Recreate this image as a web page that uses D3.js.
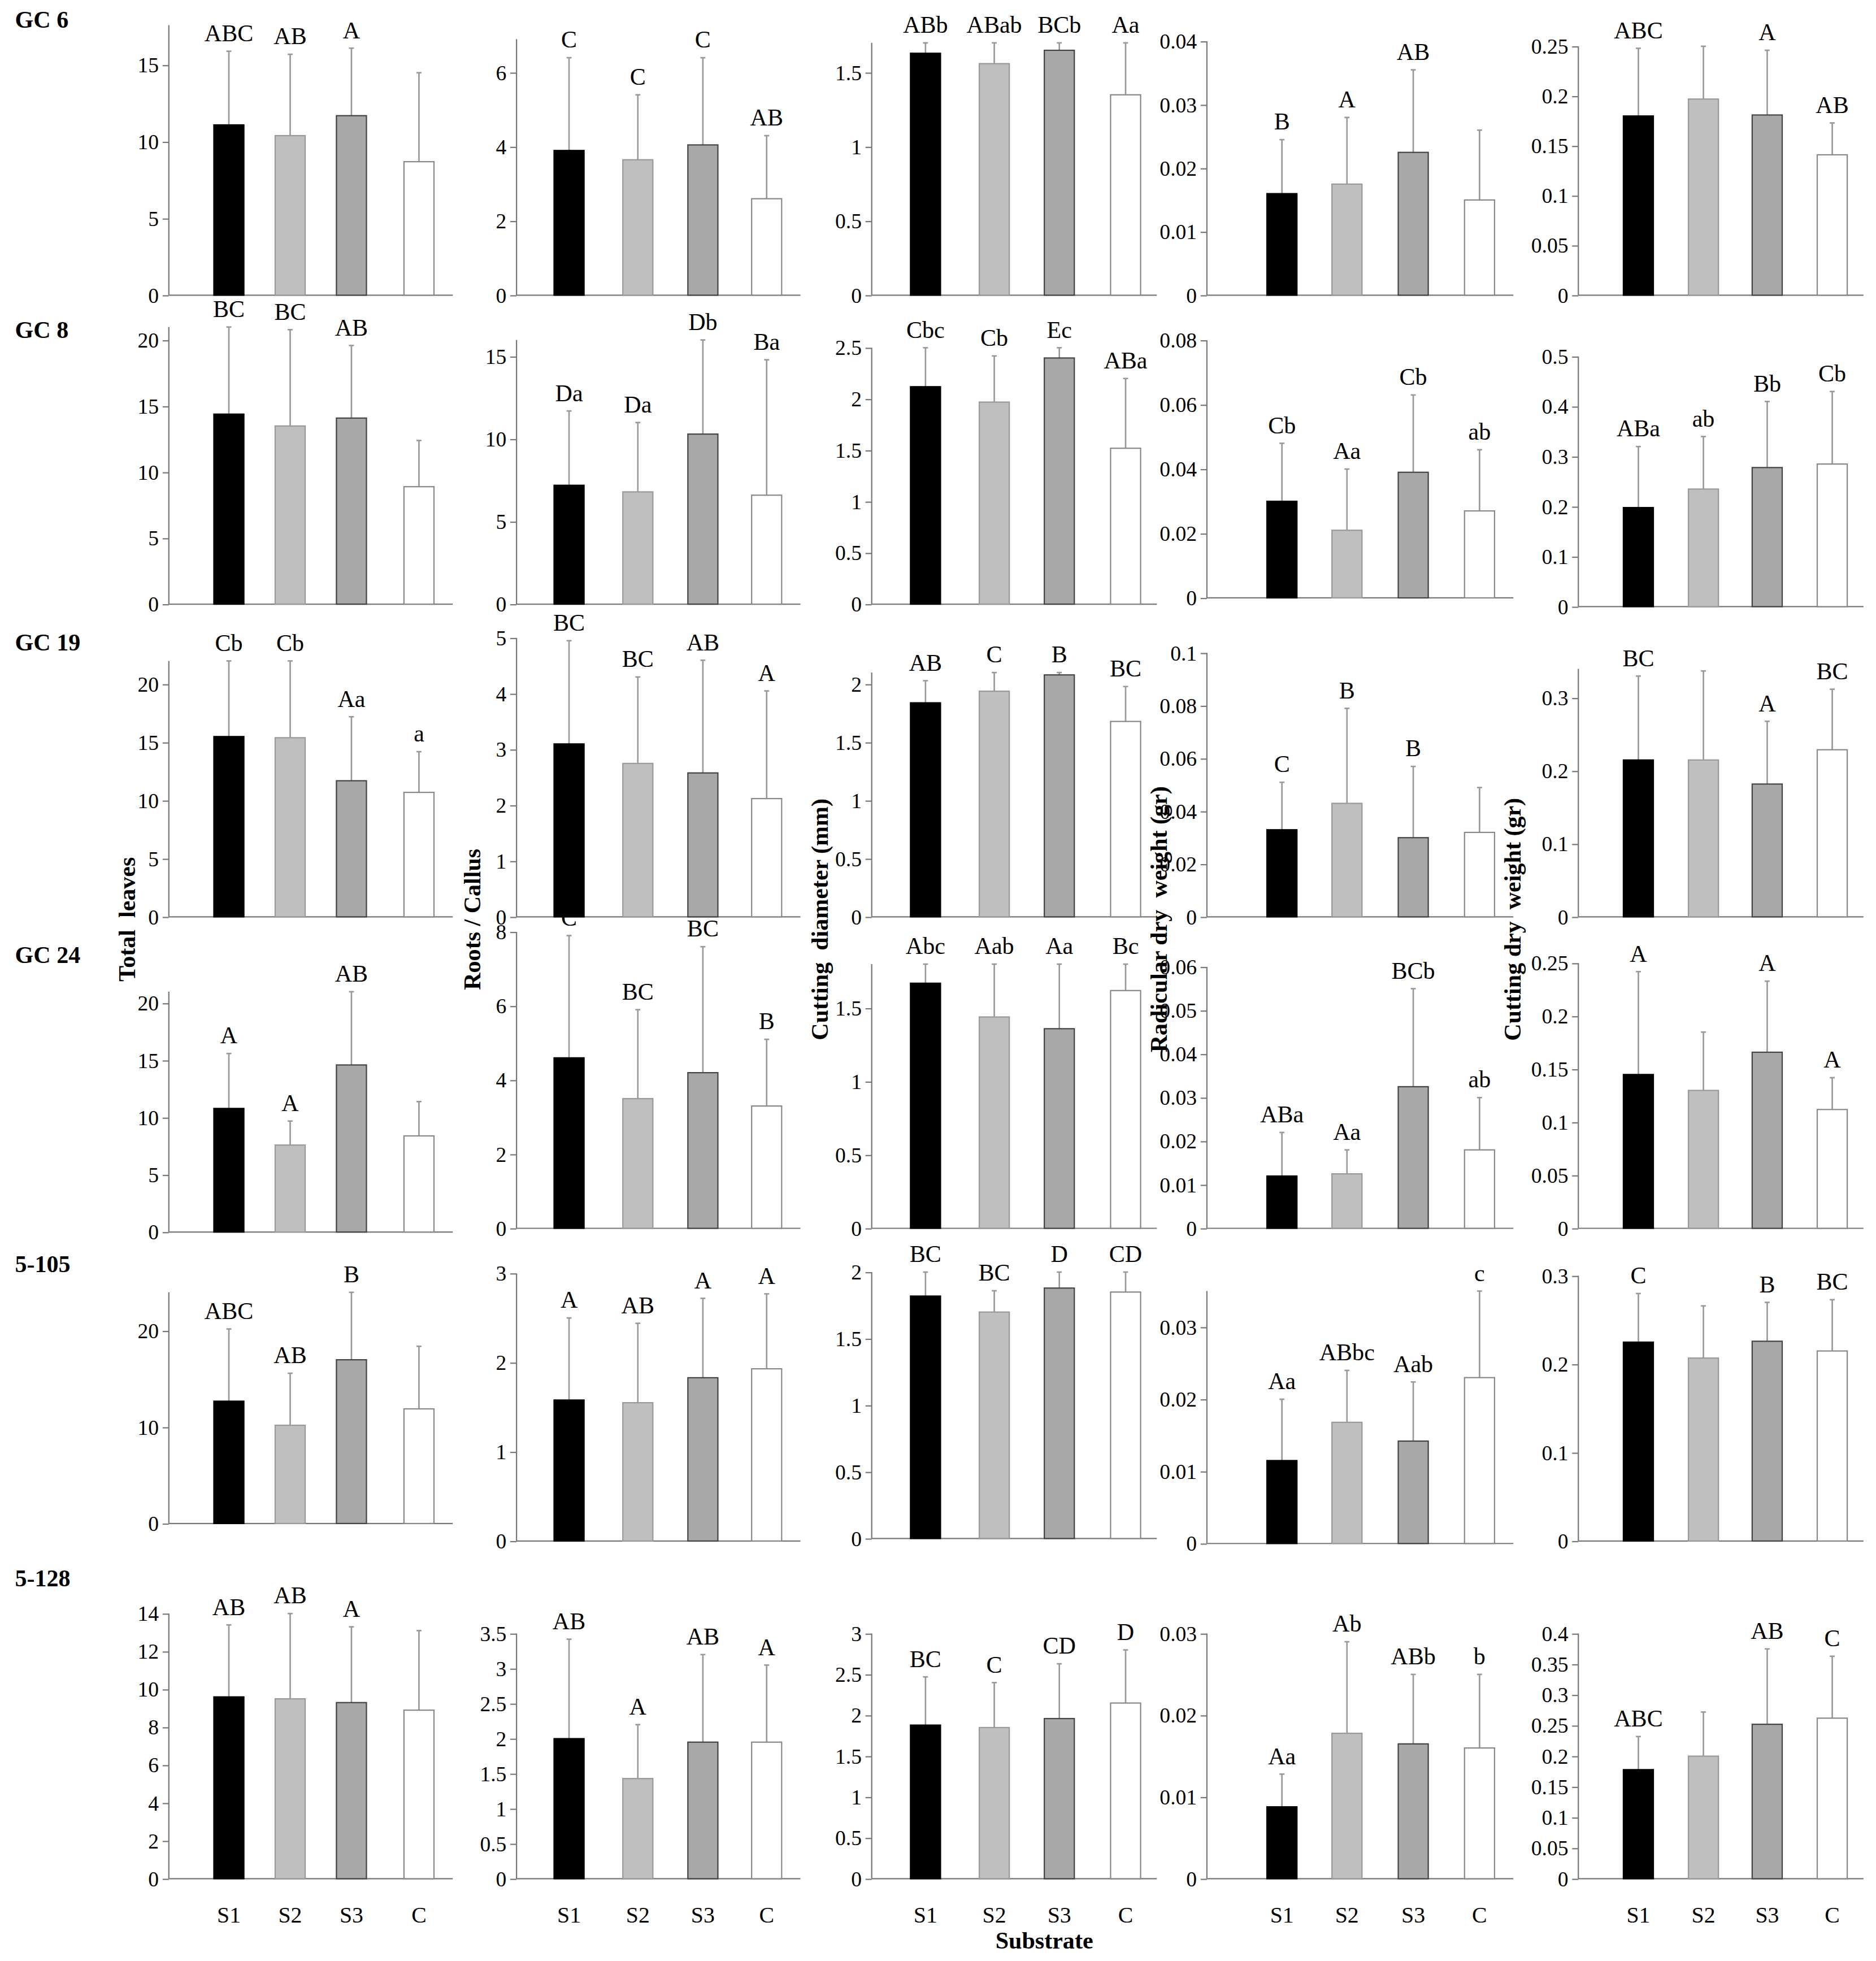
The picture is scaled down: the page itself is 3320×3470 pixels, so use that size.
<!DOCTYPE html>
<html><head><meta charset="utf-8">
<script src="https://cdn.jsdelivr.net/npm/d3@7"></script>
<style>body{margin:0;background:#fff}</style></head>
<body><svg id="c" width="3320" height="3470"></svg>
<script>
const categories=["S1","S2","S3","C"];
const rowLabels=["GC 6","GC 8","GC 19","GC 24","5-105","5-128"];
const yTitles=["Total  leaves","Roots / Callus","Cutting  diameter (mm)","Radicular dry  weight (gr)","Cutting dry  weight (gr)"];
const means=[
 [[11.1,10.4,11.7,8.7],[3.9,3.65,4.05,2.6],[1.63,1.56,1.65,1.35],[0.016,0.0175,0.0225,0.015],[0.18,0.197,0.181,0.141]],
 [[14.4,13.5,14.1,8.9],[7.2,6.8,10.3,6.6],[2.12,1.97,2.4,1.52],[0.030,0.021,0.039,0.027],[0.198,0.235,0.278,0.285]],
 [[15.5,15.4,11.7,10.7],[3.1,2.75,2.58,2.12],[1.84,1.94,2.08,1.68],[0.033,0.043,0.030,0.032],[0.215,0.215,0.182,0.229]],
 [[10.8,7.6,14.6,8.4],[4.6,3.5,4.2,3.3],[1.67,1.44,1.36,1.62],[0.012,0.0125,0.0325,0.018],[0.145,0.130,0.166,0.112]],
 [[12.7,10.2,17,11.9],[1.58,1.55,1.83,1.93],[1.82,1.70,1.88,1.85],[0.0115,0.0168,0.0142,0.023],[0.225,0.207,0.226,0.215]],
 [[9.6,9.5,9.3,8.9],[2.0,1.43,1.95,1.95],[1.88,1.85,1.96,2.15],[0.0088,0.0178,0.0165,0.016],[0.178,0.2,0.252,0.262]]
];
const errTops=[
 [[15.9,15.7,16.1,14.5],[6.4,5.4,6.4,4.3],[1.7,1.7,1.7,1.7],[0.0245,0.028,0.0355,0.026],[0.248,0.258,0.246,0.173]],
 [[21,20.8,19.6,12.4],[11.7,11.0,16,14.8],[2.5,2.42,2.5,2.2],[0.048,0.040,0.063,0.046],[0.32,0.34,0.41,0.43]],
 [[22,22,17.2,14.2],[4.95,4.3,4.6,4.05],[2.03,2.1,2.1,1.98],[0.051,0.079,0.057,0.049],[0.33,0.337,0.268,0.312]],
 [[15.6,9.7,21,11.4],[7.9,5.9,7.6,5.1],[1.8,1.8,1.8,1.8],[0.022,0.018,0.055,0.030],[0.242,0.185,0.233,0.142]],
 [[20.2,15.6,24,18.4],[2.5,2.44,2.72,2.77],[2.0,1.86,2.0,2.0],[0.020,0.024,0.0224,0.0355],[0.28,0.266,0.27,0.273]],
 [[13.4,14,13.3,13.1],[3.42,2.2,3.2,3.05],[2.47,2.4,2.63,2.8],[0.0128,0.029,0.025,0.025],[0.232,0.272,0.375,0.363]]
];
const letters=[
 [["ABC","AB","A",""],["C","C","C","AB"],["ABb","ABab","BCb","Aa"],["B","A","AB",""],["ABC","","A","AB"]],
 [["BC","BC","AB",""],["Da","Da","Db","Ba"],["Cbc","Cb","Ec","ABa"],["Cb","Aa","Cb","ab"],["ABa","ab","Bb","Cb"]],
 [["Cb","Cb","Aa","a"],["BC","BC","AB","A"],["AB","C","B","BC"],["C","B","B",""],["BC","","A","BC"]],
 [["A","A","AB",""],["C","BC","BC","B"],["Abc","Aab","Aa","Bc"],["ABa","Aa","BCb","ab"],["A","","A","A"]],
 [["ABC","AB","B",""],["A","AB","A","A"],["BC","BC","D","CD"],["Aa","ABbc","Aab","c"],["C","","B","BC"]],
 [["AB","AB","A",""],["AB","A","AB","A"],["BC","C","CD","D"],["Aa","Ab","ABb","b"],["ABC","","AB","C"]]
];
const ticks=[
 [[15,5],[6,2],[1.5,0.5],[0.04,0.01],[0.25,0.05]],
 [[20,5],[15,5],[2.5,0.5],[0.08,0.02],[0.5,0.1]],
 [[20,5],[5,1],[2,0.5],[0.1,0.02],[0.3,0.1]],
 [[20,5],[8,2],[1.5,0.5],[0.06,0.01],[0.25,0.05]],
 [[20,10],[3,1],[2,0.5],[0.03,0.01],[0.3,0.1]],
 [[14,2],[3.5,0.5],[3,0.5],[0.03,0.01],[0.4,0.05]]
];
const axisTop=[
 [17.6,6.9,1.7,0.04,0.25],[21,16,2.5,0.08,0.5],[22,5,2.1,0.1,0.34],[21,8,1.8,0.06,0.25],[24,3,2,0.035,0.3],[14,3.5,3,0.03,0.4]
];
const S=3320/1500;
const colX=[135,413,697,965,1262], colR=[362,640,925,1210,1490];
const barX=[[183,232,281,335],[455,510,562,613],[740,795,847,900],[1025,1077,1130,1183],[1310,1362,1413,1465]];
const base=[[236,236,236,236,236],[483,483,483,478,485],[733,733,733,733,733],[985,982,982,982,982],[1218,1232,1230,1234,1232],[1502,1502,1502,1502,1502]];
const tickPx=[[52,58,58,33,37],[272,285,278,272,285],[547,510,547,522,558],[802,745,806,773,770],[1064,1018,1017,1061,1020],[1290,1306,1306,1306,1306]];
const fills=["#000","#bfbfbf","#a8a8a8","#fff"];
const strokes=["#000","#999","#444","#888"];
const svg=d3.select("#c");
const g=svg.append("g").attr("transform",`scale(${S})`);
const font="Liberation Serif, Times New Roman, serif";
for(let r=0;r<6;r++){
 g.append("text").attr("x",12).attr("y",[22,270,520,770,1017,1268][r]).text(rowLabels[r])
  .attr("font-family",font).attr("font-weight","bold").attr("font-size",19);
 for(let c=0;c<5;c++){
  const [tm,st]=ticks[r][c];
  const y=d3.scaleLinear().domain([0,tm]).range([base[r][c],tickPx[r][c]]);
  const x0=colX[c];
  const pg=g.append("g");
  const tv=d3.range(0,tm+st/2,st);
  const fmt=v=>+v.toFixed(3)+"";
  const ax=pg.append("g").attr("transform",`translate(${x0},0)`).call(d3.axisLeft(y).tickValues(tv).tickFormat(fmt).tickSize(5).tickSizeOuter(0));
  ax.select(".domain").remove();
  ax.selectAll("text").attr("font-family",font).attr("font-size",17).attr("fill","#000");
  ax.selectAll("line").attr("stroke","#777");
  pg.append("line").attr("x1",x0).attr("x2",x0).attr("y1",y(0)).attr("y2",y(axisTop[r][c])).attr("stroke","#777");
  pg.append("line").attr("x1",x0).attr("x2",colR[c]).attr("y1",y(0)).attr("y2",y(0)).attr("stroke","#777");
  const top=y(axisTop[r][c]);
  categories.forEach((k,i)=>{
   const bx=barX[c][i], m=means[r][c][i], e=errTops[r][c][i];
   const yt=Math.max(y(m),top), ye=Math.max(y(e),top);
   pg.append("line").attr("x1",bx).attr("x2",bx).attr("y1",yt).attr("y2",ye).attr("stroke","#999").attr("stroke-width",1.2);
   pg.append("line").attr("x1",bx-2).attr("x2",bx+2).attr("y1",ye).attr("y2",ye).attr("stroke","#999").attr("stroke-width",1.2);
   pg.append("rect").attr("x",bx-12).attr("width",24).attr("y",yt).attr("height",y(0)-yt)
     .attr("fill",fills[i]).attr("stroke",strokes[i]).attr("stroke-width",1);
   if(letters[r][c][i]) pg.append("text").attr("x",bx).attr("y",ye-8).attr("text-anchor","middle")
     .attr("font-family",font).attr("font-size",19).text(letters[r][c][i]);
   if(r===5) pg.append("text").attr("x",bx).attr("y",1537).attr("text-anchor","middle")
     .attr("font-family",font).attr("font-size",18).text(k);
  });
 }
}
const titleX=[108,384,662,933,1216];
yTitles.forEach((t,c)=>g.append("text").attr("transform",`translate(${titleX[c]},735) rotate(-90)`)
 .attr("text-anchor","middle").attr("font-family",font).attr("font-weight","bold").attr("font-size",19).attr("xml:space","preserve").text(t));
g.append("text").attr("x",835).attr("y",1558).attr("text-anchor","middle").attr("font-family",font).attr("font-weight","bold").attr("font-size",19).text("Substrate");
</script></body></html>
